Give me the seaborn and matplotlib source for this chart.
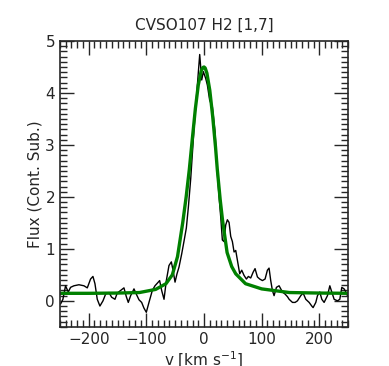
import numpy as np
import pandas as pd
import matplotlib
matplotlib.use("Agg")
import matplotlib.pyplot as plt
import seaborn as sns
from matplotlib.ticker import MultipleLocator

# --- data ---
spec_v = [-248.8, -244.8, -240.2, -235.5, -231.5, -225.7, -217.0, -208.3, -202.5, -196.8,
          -192.7, -189.2, -185.2, -180.6, -175.3, -170.7, -164.9, -160.3, -154.5, -150.5,
          -144.7, -138.9, -134.8, -131.4, -127.3, -121.5, -117.5, -112.8, -108.2, -104.2,
          -100.1, -95.5, -89.7, -85.1, -81.0, -77.0, -73.5, -69.4, -65.4, -60.8,
          -56.7, -53.8, -50.3, -46.9, -43.4, -38.8, -34.7, -30.7, -27.2, -23.1,
          -17.4, -11.6, -7.5, -4.0, -1.2, 2.9, 5.8, 9.8, 14.5, 19.1,
          23.1, 26.0, 28.9, 31.8, 34.7, 37.6, 40.5, 43.4, 46.3, 49.2,
          52.1, 55.0, 57.9, 61.9, 65.4, 69.4, 73.5, 76.9, 81.0, 85.1,
          88.5, 92.6, 96.6, 101.3, 105.9, 109.9, 112.8, 115.7, 118.6, 121.5,
          125.6, 130.2, 133.1, 136.0, 140.6, 144.7, 147.6, 153.4, 158.0, 162.0,
          167.8, 171.9, 176.5, 182.3, 186.9, 189.2, 193.9, 196.8, 200.8, 204.3,
          208.3, 214.1, 218.2, 221.6, 225.7, 231.5, 235.5, 239.0, 243.0, 246.0, 248.8]
spec_flux = [-0.06, 0.03, 0.29, 0.17, 0.26, 0.29, 0.31, 0.29, 0.25, 0.42,
             0.47, 0.33, 0.03, -0.10, 0.00, 0.13, 0.16, 0.07, 0.03, 0.15,
             0.20, 0.25, 0.08, -0.03, 0.10, 0.23, 0.13, 0.02, -0.03, -0.14,
             -0.22, -0.03, 0.20, 0.29, 0.34, 0.39, 0.20, 0.03, 0.39, 0.68,
             0.75, 0.59, 0.36, 0.52, 0.65, 0.90, 1.15, 1.40, 1.80, 2.35,
             3.30, 4.15, 4.74, 4.25, 4.41, 4.28, 4.15, 3.86, 3.73, 3.25,
             2.45, 2.01, 1.62, 1.17, 1.14, 1.46, 1.56, 1.51, 1.24, 1.14,
             0.94, 0.97, 0.78, 0.52, 0.59, 0.49, 0.42, 0.47, 0.44, 0.55,
             0.62, 0.46, 0.42, 0.39, 0.42, 0.59, 0.63, 0.39, 0.20, 0.10,
             0.26, 0.29, 0.23, 0.17, 0.13, 0.08, 0.03, -0.03, -0.03, 0.00,
             0.10, 0.15, 0.03, -0.03, -0.10, -0.13, -0.03, 0.10, 0.17, 0.03,
             -0.03, 0.10, 0.29, 0.17, 0.03, 0.00, 0.03, 0.26, 0.23, 0.17, 0.10]

fit_v = [-250, -200, -150, -112, -84, -66, -55, -46, -37, -31, -25.5, -20, -15, -10, -5,
         -2, 0, 2, 5, 10, 15, 20, 23, 28, 32, 40, 48, 55, 72, 100, 148, 200, 250]
fit_flux = [0.145, 0.145, 0.15, 0.16, 0.22, 0.33, 0.50, 0.85, 1.50, 2.00, 2.53, 3.15, 3.70, 4.15, 4.42,
            4.49, 4.50, 4.48, 4.38, 4.05, 3.55, 2.95, 2.53, 1.95, 1.56, 0.93, 0.66, 0.52, 0.33, 0.23, 0.16, 0.15, 0.145]

spec = pd.DataFrame({"v": spec_v, "flux": spec_flux})
fit = pd.DataFrame({"v": fit_v, "flux": fit_flux})

sns.set_style("ticks")
plt.rcParams["font.family"] = ["DejaVu Sans"]

fig = plt.figure(figsize=(3.89, 3.66), dpi=100)
ax = fig.add_axes([0.154, 0.107, 0.741, 0.781])

sns.lineplot(data=spec, x="v", y="flux", ax=ax, color="black", lw=1.0, sort=False)
sns.lineplot(data=fit, x="v", y="flux", ax=ax, color="#008000", lw=2.4, sort=False)

ax.set_xlim(-250, 250)
ax.set_ylim(-0.5, 5)
ax.xaxis.set_major_locator(MultipleLocator(100))
ax.xaxis.set_minor_locator(MultipleLocator(10))
ax.yaxis.set_major_locator(MultipleLocator(1))
ax.yaxis.set_minor_locator(MultipleLocator(0.1))
ax.tick_params(which="both", direction="in", top=True, right=True, labelsize=11, width=1)
ax.tick_params(which="major", length=10)
ax.tick_params(which="minor", length=5)
for s in ax.spines.values():
    s.set_linewidth(1.2)

ax.set_title("CVSO107 H2 [1,7]", fontsize=11, pad=8)
ax.set_xlabel("v [km s$^{-1}$]", fontsize=11, labelpad=2)
ax.set_ylabel("Flux (Cont. Sub.)", fontsize=11, labelpad=2)

fig.savefig("out.png", dpi=100)
